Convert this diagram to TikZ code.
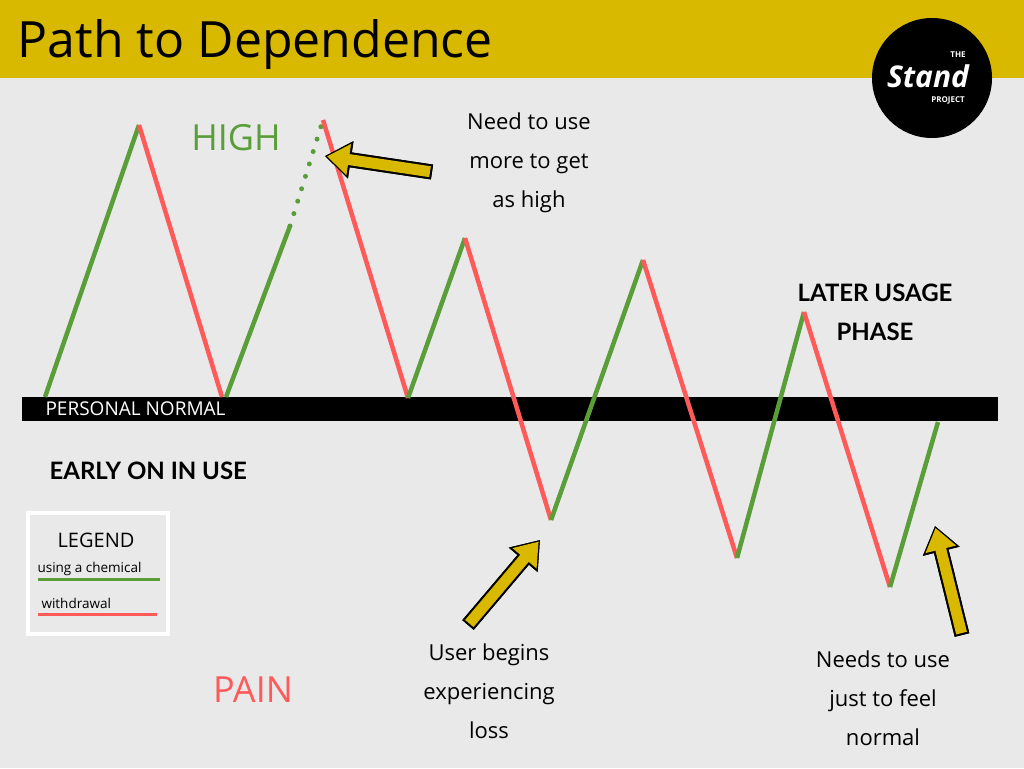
\documentclass[tikz,border=0pt]{standalone}
\usepackage{fontspec}
\setmainfont{Open Sans}
\newfontfamily\boldf{Lato}
\usetikzlibrary{arrows.meta}
\definecolor{gold}{HTML}{D9B800}
\definecolor{gr}{HTML}{5A9E3A}
\definecolor{rd}{HTML}{FF5A5A}
\definecolor{bg}{HTML}{E9E9E9}
\begin{document}
\begin{tikzpicture}[x=1pt,y=-1pt,
  g/.style={gr,line width=4.5pt},
  r/.style={rd,line width=4.5pt},
  lbl/.style={font=\fontsize{22}{39}\selectfont,align=center},
  bl/.style={font=\boldf\bfseries\fontsize{24}{39}\selectfont,align=center},
  yarr/.style={line width=11pt,-{Triangle[length=22pt,width=30pt]}}]
\useasboundingbox (0,0) rectangle (1024,768);
\fill[bg] (0,0) rectangle (1024,768);
\fill[gold] (0,0) rectangle (1024,78);
\node[anchor=west,font=\fontsize{50}{56}\selectfont] (title) at (14,45) {Path to Dependence};
\fill[black] (932,78) circle (60);
\node[white,font=\itshape\bfseries\fontsize{30}{30}\selectfont,inner sep=0pt] (logo) at (928,76) {Stand};
\node[white,font=\bfseries\fontsize{8}{8}\selectfont,inner sep=0pt] (the) at (958,55) {THE};
\node[white,font=\bfseries\fontsize{8}{8}\selectfont,inner sep=0pt] (proj) at (948,100) {PROJECT};
% bar
\fill[black] (22,397) rectangle (998,421);
\node[white,anchor=west,font=\fontsize{19}{19}\selectfont] (pn) at (42,409) {PERSONAL NORMAL};
% zigzag
\coordinate (p0) at (45,397); \coordinate (p1) at (139,125); \coordinate (p2) at (222,397);
\coordinate (p3) at (226,397); \coordinate (p3b) at (290,226); \coordinate (p4) at (323,120);
\coordinate (p5) at (408,398); \coordinate (p6) at (465,238); \coordinate (p7) at (551,520);
\coordinate (p8) at (643,260); \coordinate (p9) at (737,558); \coordinate (p10) at (804,312);
\coordinate (p11) at (890,587); \coordinate (p12) at (938,422);
\draw[g] (p0)--(p1); \draw[r] (p1)--(p2);
\draw[g] (p3)--(p3b);
\draw[gr,line width=5pt,dash pattern=on 0pt off 13pt,line cap=round] (p3b)--(p4);
\draw[r] (p4)--(p5); \draw[g] (p5)--(p6); \draw[r] (p6)--(p7);
\draw[g] (p7)--(p8); \draw[r] (p8)--(p9); \draw[g] (p9)--(p10);
\draw[r] (p10)--(p11); \draw[g] (p11)--(p12);
% arrows
\coordinate (a1s) at (432,172); \coordinate (a1e) at (325,156);
\coordinate (a2s) at (468,625); \coordinate (a2e) at (540,540);
\coordinate (a3s) at (962,635); \coordinate (a3e) at (935,526);
\foreach \s/\e in {a1s/a1e,a2s/a2e,a3s/a3e}{
  \draw[yarr,black,line width=15pt,-{Triangle[length=26pt,width=36pt]},shift={(3pt,-3pt)}] (\s)--(\e);
  \draw[yarr,black,line width=15pt,-{Triangle[length=26pt,width=36pt]}] (\s)--(\e);
  \draw[yarr,gold,shorten >=2pt,shorten <=2pt] (\s)--(\e);}
% labels
\node[gr,font=\fontsize{36}{36}\selectfont] (high) at (236,138) {HIGH};
\node[rd,font=\fontsize{36}{36}\selectfont] (pain) at (253,690) {PAIN};
\node[lbl] (need) at (529,163) {Need to use\\more to get\\as high};
\node[lbl] (user) at (489,691) {User begins\\experiencing\\loss};
\node[lbl] (feel) at (883,698) {Needs to use\\just to feel\\normal};
\node[bl] (later) at (875,312) {LATER USAGE\\PHASE};
\node[bl,anchor=west] (early) at (46,471) {EARLY ON IN USE};
% legend
\draw[white,line width=4pt] (28,513) rectangle (168,634);
\node[font=\fontsize{20}{20}\selectfont] (leg) at (96,540) {LEGEND};
\node[anchor=west,font=\fontsize{13.5}{13}\selectfont] (lu) at (34,569) {using a chemical};
\draw[gr,line width=3pt] (38,579)--(160,579);
\node[anchor=west,font=\fontsize{13.5}{13}\selectfont] (lw) at (38,603) {withdrawal};
\draw[rd,line width=3pt] (38,614)--(157,614);
\end{tikzpicture}
\end{document}
